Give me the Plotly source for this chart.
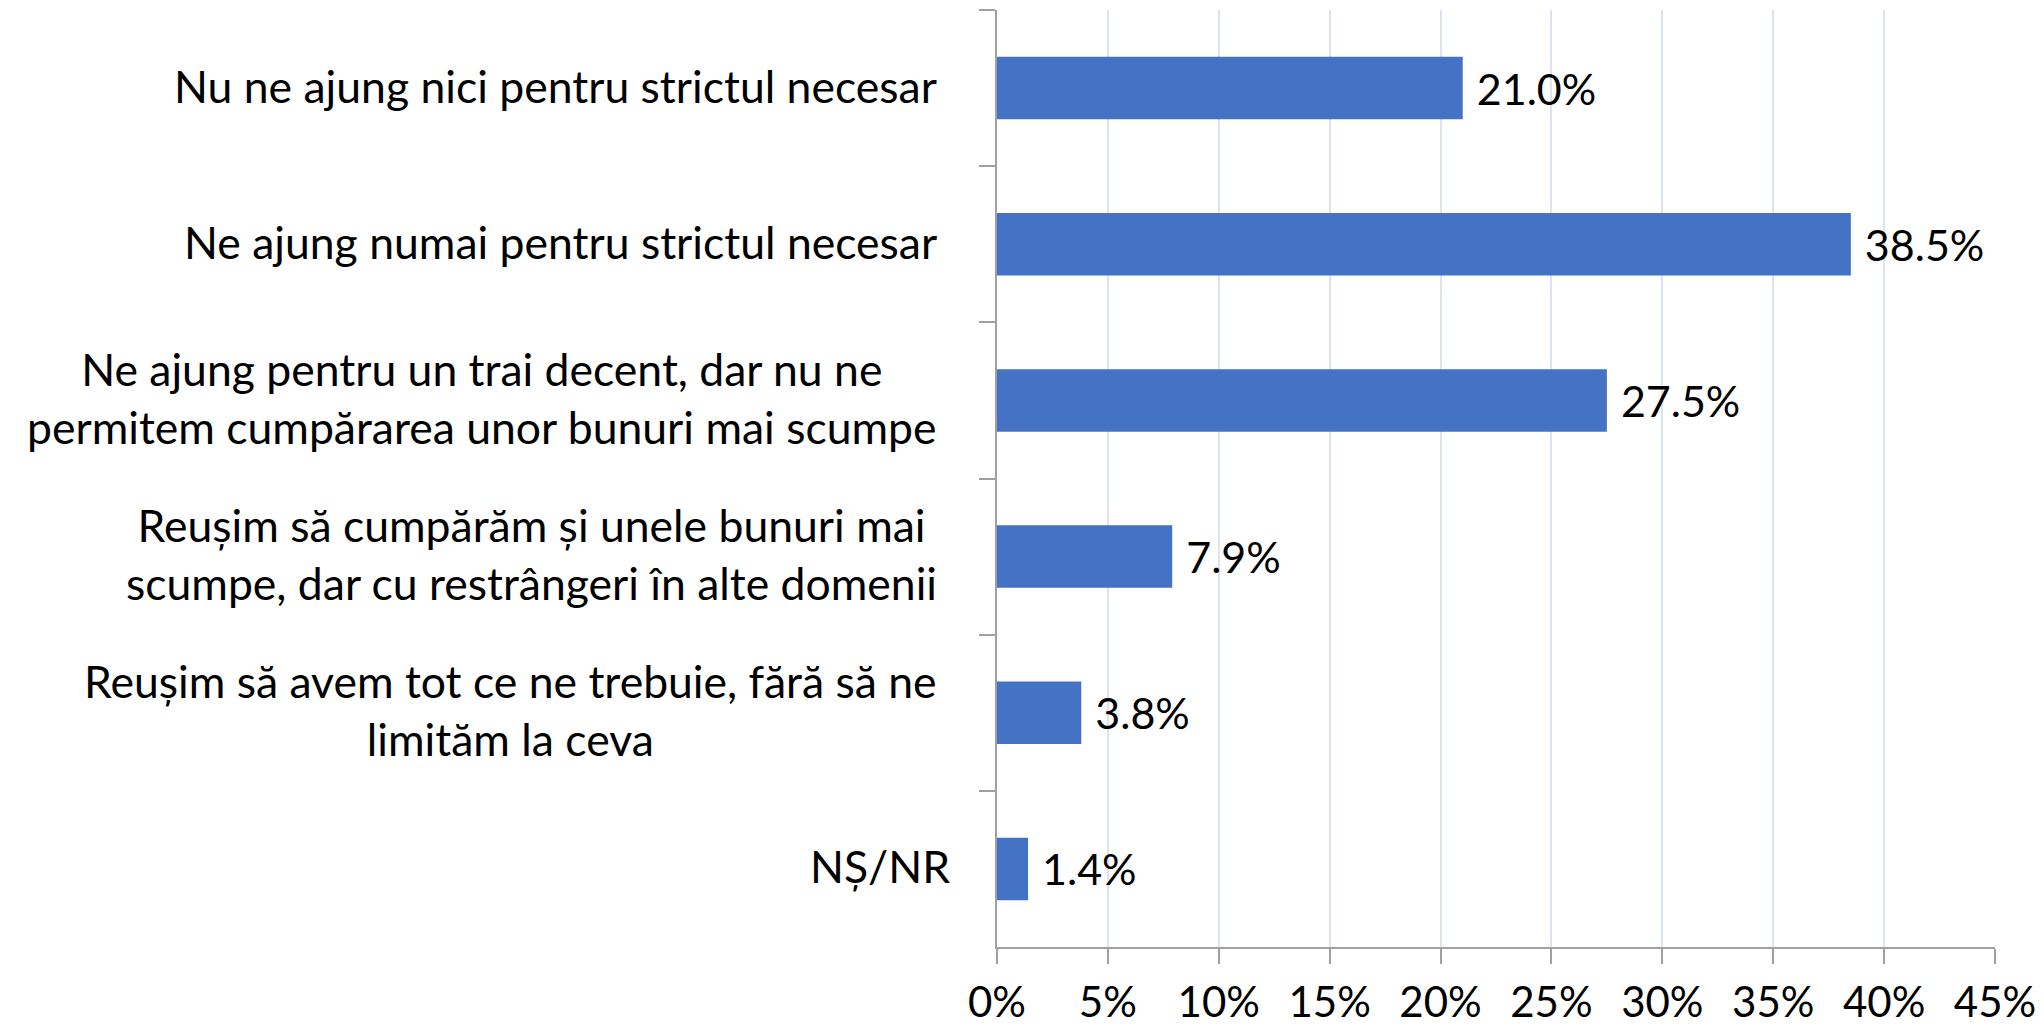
import plotly.graph_objects as go

categories = [
    "Nu ne ajung nici pentru strictul necesar",
    "Ne ajung numai pentru strictul necesar",
    "Ne ajung pentru un trai decent, dar nu ne<br>permitem cumpărarea unor bunuri mai scumpe",
    "Reușim să cumpărăm și unele bunuri mai<br>scumpe, dar cu restrângeri în alte domenii",
    "Reușim să avem tot ce ne trebuie, fără să ne<br>limităm la ceva",
    "NȘ/NR",
]
values = [21.0, 38.5, 27.5, 7.9, 3.8, 1.4]
x_ticks = [0, 5, 10, 15, 20, 25, 30, 35, 40, 45]

FONT = "Lato"
# page body has an 8px margin; figure offset by it
W, H = 2036, 1019
L, R, T, B = 989, 49, 2, 80
plot_w = W - L - R

fig = go.Figure()
fig.add_trace(go.Bar(
    y=categories, x=values, orientation="h",
    marker=dict(color="#4472C4", line=dict(width=0)),
    width=0.4,
    text=[f"\u00a0{v:.1f}%" for v in values],
    textposition="outside",
    textfont=dict(family=FONT, size=43, color="#000000"),
    cliponaxis=False,
))

for c in categories:
    right_px = 944 if c == "NȘ/NR" else 931
    fig.add_annotation(
        x=(right_px - L) / plot_w, xref="paper", xanchor="right",
        y=c, yref="y", yanchor="middle", yshift=3,
        text=c, showarrow=False, align="center",
        font=dict(family=FONT, size=44.5, color="#000000"),
    )

fig.update_layout(
    width=W, height=H,
    margin=dict(l=L, r=R, t=T, b=B, pad=0, autoexpand=False),
    plot_bgcolor="white", paper_bgcolor="white",
    showlegend=False,
    font=dict(family=FONT, size=43, color="#000000"),
)
fig.update_xaxes(
    range=[0, 45], tickvals=x_ticks, ticktext=[f"{v}%" for v in x_ticks],
    showgrid=True, gridcolor="#DCE3F1", gridwidth=2,
    showline=True, linecolor="#A0A0A0", linewidth=2,
    ticks="outside", ticklen=15, tickwidth=2, tickcolor="#A0A0A0",
    tickfont=dict(family=FONT, size=42, color="#000000"),
    ticklabelstandoff=3, ticklabeloverflow="allow",
    zeroline=False, automargin=False,
)
fig.update_yaxes(
    categoryorder="array", categoryarray=categories, autorange="reversed",
    showticklabels=False, showgrid=False, zeroline=False,
    showline=True, linecolor="#A0A0A0", linewidth=2,
    ticks="outside", ticklen=16, tickwidth=2, tickcolor="#A0A0A0",
    tickson="boundaries", automargin=False,
)

fig.write_html("out.html")
